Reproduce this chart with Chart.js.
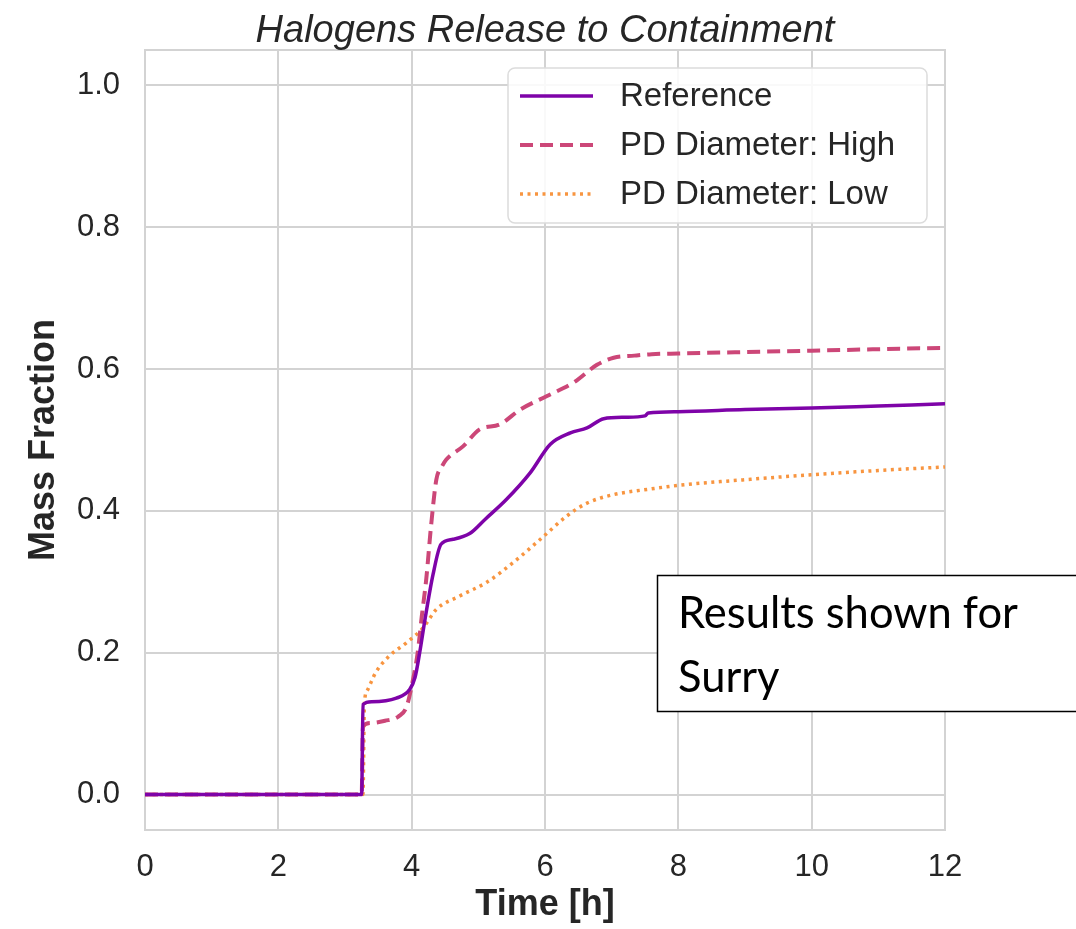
<!DOCTYPE html>
<html>
<head>
<meta charset="utf-8">
<script src="https://cdn.jsdelivr.net/npm/chart.js@4.4.0/dist/chart.umd.min.js"></script>
<style>
  html, body { margin: 0; padding: 0; background: #ffffff; }
  #wrap { width: 1076px; height: 929px; position: relative; }
</style>
</head>
<body>
<div id="wrap"><canvas id="c" width="1076" height="929"></canvas></div>
<script>
// ---------------- data ----------------
const chartTitle = 'Halogens Release to Containment';
const xAxisTitle = 'Time [h]';
const yAxisTitle = 'Mass Fraction';
const seriesLabels = ['Reference', 'PD Diameter: High', 'PD Diameter: Low'];
const xTickValues = [0, 2, 4, 6, 8, 10, 12];
const yTickValues = [0.0, 0.2, 0.4, 0.6, 0.8, 1.0];
const noteLines = ['Results shown for', 'Surry'];

const refTime   = [0, 1, 2, 3, 3.25, 3.27, 3.4, 3.77, 3.97, 4.05, 4.12, 4.2, 4.32, 4.44, 4.62, 4.87, 5.1, 5.42, 5.78, 6.08, 6.38, 6.63, 6.88, 7.2, 7.5, 7.55, 8, 9, 10, 11, 12];
const refValues = [0, 0, 0, 0, 0, 0.127, 0.131, 0.136, 0.148, 0.165, 0.2, 0.247, 0.31, 0.353, 0.36, 0.368, 0.388, 0.416, 0.454, 0.494, 0.51, 0.517, 0.53, 0.532, 0.534, 0.538, 0.54, 0.543, 0.545, 0.548, 0.551];

const highTime   = [0, 1, 2, 3, 3.25, 3.27, 3.4, 3.6, 3.8, 3.92, 4.0, 4.09, 4.15, 4.22, 4.29, 4.37, 4.45, 4.52, 4.77, 5.02, 5.32, 5.63, 6.03, 6.43, 6.78, 7.03, 7.34, 7.6, 8, 9, 10, 11, 12];
const highValues = [0, 0, 0, 0, 0, 0.097, 0.101, 0.104, 0.110, 0.123, 0.153, 0.2, 0.25, 0.305, 0.378, 0.444, 0.462, 0.4725, 0.491, 0.515, 0.522, 0.543, 0.562, 0.581, 0.606, 0.616, 0.619, 0.621, 0.622, 0.624, 0.626, 0.628, 0.630];

const lowTime   = [0, 1, 2, 3, 3.27, 3.29, 3.33, 3.46, 3.66, 3.92, 4.17, 4.37, 4.72, 5.12, 5.52, 5.93, 6.33, 6.63, 7.03, 7.59, 8, 9, 10, 11, 12];
const lowValues = [0, 0, 0, 0, 0, 0.125, 0.146, 0.172, 0.195, 0.214, 0.235, 0.261, 0.28, 0.299, 0.327, 0.36, 0.393, 0.411, 0.423, 0.431, 0.436, 0.444, 0.451, 0.457, 0.462];

const seriesColors = ['#7e03a8', '#cc4778', '#f89540'];

// ---------------- build ----------------
const toPts = (t, v) => t.map((x, i) => ({ x: x, y: v[i] }));

const TEXT = '#262626';
const GRID = '#d3d3d3';
const FONT = "'Liberation Sans', Arial, Helvetica, sans-serif";

const datasets = [
  { label: seriesLabels[0], data: toPts(refTime, refValues), borderColor: seriesColors[0], borderWidth: 3.5, borderDash: [] },
  { label: seriesLabels[1], data: toPts(highTime, highValues), borderColor: seriesColors[1], borderWidth: 4, borderDash: [13, 7] },
  { label: seriesLabels[2], data: toPts(lowTime, lowValues), borderColor: seriesColors[2], borderWidth: 3.5, borderDash: [3, 4.5] }
].map(d => Object.assign(d, {
  pointRadius: 0, fill: false, cubicInterpolationMode: 'monotone', backgroundColor: d.borderColor
}));

const framePlugin = {
  id: 'frame',
  beforeDatasetsDraw(chart) {
    const { ctx, chartArea: a } = chart;
    ctx.save();
    ctx.strokeStyle = GRID;
    ctx.lineWidth = 2;
    ctx.strokeRect(a.left, a.top, a.right - a.left, a.bottom - a.top);
    ctx.restore();
  },
  afterDraw(chart) {
    const { ctx, chartArea: a } = chart;
    ctx.save();
    ctx.fillStyle = TEXT;
    ctx.font = 'italic 38px ' + FONT;
    ctx.textAlign = 'center';
    ctx.textBaseline = 'middle';
    ctx.fillText(chartTitle, (a.left + a.right) / 2, 31);
    ctx.restore();
  }
};

const legendNotePlugin = {
  id: 'legendNote',
  afterDraw(chart) {
    const ctx = chart.ctx;
    ctx.save();
    // legend box
    const bx = 508, by = 68, bw = 419, bh = 155, r = 7;
    ctx.beginPath();
    ctx.moveTo(bx + r, by);
    ctx.arcTo(bx + bw, by, bx + bw, by + bh, r);
    ctx.arcTo(bx + bw, by + bh, bx, by + bh, r);
    ctx.arcTo(bx, by + bh, bx, by, r);
    ctx.arcTo(bx, by, bx + bw, by, r);
    ctx.closePath();
    ctx.fillStyle = 'rgba(255,255,255,0.85)';
    ctx.fill();
    ctx.strokeStyle = '#dcdcdc';
    ctx.lineWidth = 1.5;
    ctx.stroke();
    const rows = [96, 145, 194];
    chart.data.datasets.forEach((ds, i) => {
      ctx.beginPath();
      ctx.setLineDash(ds.borderDash || []);
      ctx.strokeStyle = ds.borderColor;
      ctx.lineWidth = ds.borderWidth;
      ctx.moveTo(520, rows[i]);
      ctx.lineTo(593, rows[i]);
      ctx.stroke();
      ctx.setLineDash([]);
      ctx.fillStyle = TEXT;
      ctx.font = '33px ' + FONT;
      ctx.textBaseline = 'middle';
      ctx.textAlign = 'left';
      ctx.fillText(ds.label, 620, rows[i] + 1);
    });
    // note box
    ctx.fillStyle = '#ffffff';
    ctx.fillRect(657, 575, 430, 137);
    ctx.strokeStyle = '#000000';
    ctx.lineWidth = 1.5;
    ctx.strokeRect(657.5, 575.5, 430, 136);
    let size = 40;
    ctx.font = size + "px Lato, 'Open Sans', sans-serif";
    const w = ctx.measureText(noteLines[0]).width;
    size = size * 340 / w;
    ctx.font = size + "px Lato, 'Open Sans', sans-serif";
    ctx.fillStyle = '#000000';
    ctx.textBaseline = 'alphabetic';
    ctx.textAlign = 'left';
    ctx.fillText(noteLines[0], 678, 628);
    ctx.fillText(noteLines[1], 678, 692);
    ctx.restore();
  }
};

new Chart(document.getElementById('c'), {
  type: 'line',
  data: { datasets },
  options: {
    responsive: false,
    animation: false,
    devicePixelRatio: 1,
    layout: { padding: { top: 50, left: 0, right: 131, bottom: 0 } },
    plugins: {
      legend: { display: false },
      tooltip: { enabled: false },
      title: { display: false }
    },
    scales: {
      x: {
        type: 'linear',
        min: 0, max: 12,
        afterFit(scale) { scale.height = 99; },
        afterBuildTicks(scale) { scale.ticks = xTickValues.map(v => ({ value: v })); },
        grid: { color: GRID, lineWidth: 2, drawTicks: false },
        border: { display: true, color: GRID, width: 2 },
        ticks: { color: TEXT, font: { family: FONT, size: 31 }, padding: 19, maxRotation: 0, callback: v => String(v) },
        title: { display: true, text: xAxisTitle, color: TEXT, font: { family: FONT, size: 36, weight: 'bold' }, padding: { top: 0, bottom: 2 } }
      },
      y: {
        type: 'linear',
        min: -0.05, max: 1.05,
        afterFit(scale) { scale.width = 145; },
        afterBuildTicks(scale) { scale.ticks = yTickValues.map(v => ({ value: v })); },
        grid: { color: GRID, lineWidth: 2, drawTicks: false },
        border: { display: true, color: GRID, width: 2 },
        ticks: { color: TEXT, font: { family: FONT, size: 31 }, padding: 25, callback: v => Number(v).toFixed(1) },
        title: { display: true, text: yAxisTitle, color: TEXT, font: { family: FONT, size: 36, weight: 'bold' }, padding: { top: 22, bottom: 0 } }
      }
    }
  },
  plugins: [framePlugin, legendNotePlugin]
});
</script>
</body>
</html>
